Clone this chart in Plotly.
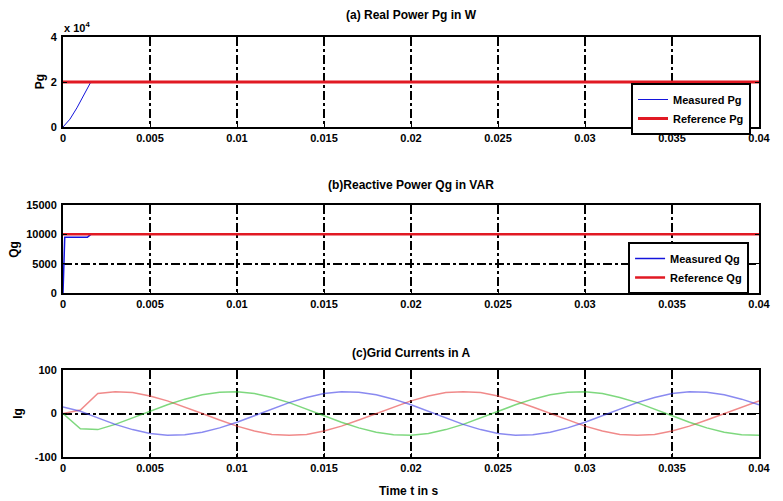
import plotly.graph_objects as go
from plotly.subplots import make_subplots

# ---------------- data ----------------
x_ticks = [0, 0.005, 0.01, 0.015, 0.02, 0.025, 0.03, 0.035, 0.04]
x_ticktext = ["0", "0.005", "0.01", "0.015", "0.02", "0.025", "0.03", "0.035", "0.04"]

# (a) real power
t_pg_meas = [0, 0.0004, 0.0008, 0.0012, 0.0016, 0.04]
pg_meas = [0, 3500, 8500, 14000, 20000, 20000]
t_pg_ref = [0, 0.04]
pg_ref = [20000, 20000]
pg_ticks = [0, 20000, 40000]
pg_ticktext = ["0", "2", "4"]

# (b) reactive power
t_qg_meas = [0, 0.0001, 0.0014, 0.0016, 0.04]
qg_meas = [0, 9500, 9500, 10000, 10000]
t_qg_ref = [0, 0.04]
qg_ref = [10000, 10000]
qg_ticks = [0, 5000, 10000, 15000]
qg_ticktext = ["0", "5000", "10000", "15000"]

# (c) grid currents, sampled every 1 ms
t_ig = [round(k * 0.001, 3) for k in range(41)]
ig_red = [0, 8, 46, 50, 48, 40, 29, 15, 0, -15, -29, -40, -48, -50, -48, -40, -29, -15,
          0, 15, 29, 40, 48, 50, 48, 40, 29, 15, 0, -15, -29, -40, -48, -50, -48, -40,
          -29, -15, 0, 15, 29]
ig_green = [0, -35, -37, -25, -10, 5, 20, 33, 43, 49, 50, 46, 37, 25, 10, -5, -20, -33,
            -43, -49, -50, -46, -37, -25, -10, 5, 20, 33, 43, 49, 50, 46, 37, 25, 10, -5,
            -20, -33, -43, -49, -50]
ig_blue = [15, 5, -10, -25, -37, -46, -50, -49, -43, -33, -20, -5, 10, 25, 37, 46, 50, 49,
           43, 33, 20, 5, -10, -25, -37, -46, -50, -49, -43, -33, -20, -5, 10, 25, 37, 46,
           50, 49, 43, 33, 20]
ig_ticks = [-100, 0, 100]
ig_ticktext = ["-100", "0", "100"]

# ---------------- figure ----------------
FONT = "Liberation Sans, Arial, sans-serif"
W, H = 783, 501
ML, MR, MT, MB = 63, 13, 37, 44
plot_h = H - MT - MB

def ydom(top_px, bot_px):
    return [(H - MB - bot_px) / plot_h, (H - MB - top_px) / plot_h]

fig = make_subplots(rows=3, cols=1)

BLUE = "rgb(20,20,220)"
RED = "rgb(225,25,35)"

fig.add_trace(go.Scatter(x=t_pg_meas, y=pg_meas, mode="lines", name="Measured Pg",
                         line=dict(color=BLUE, width=1), legend="legend"), row=1, col=1)
fig.add_trace(go.Scatter(x=t_pg_ref, y=pg_ref, mode="lines", name="Reference Pg",
                         line=dict(color=RED, width=3), legend="legend"), row=1, col=1)

fig.add_trace(go.Scatter(x=t_qg_meas, y=qg_meas, mode="lines", name="Measured Qg",
                         line=dict(color=BLUE, width=1.5), legend="legend2"), row=2, col=1)
fig.add_trace(go.Scatter(x=t_qg_ref, y=qg_ref, mode="lines", name="Reference Qg",
                         line=dict(color=RED, width=2.5), legend="legend2"), row=2, col=1)

fig.add_trace(go.Scatter(x=t_ig, y=ig_red, mode="lines", showlegend=False,
                         line=dict(color="rgba(230,60,60,0.6)", width=1.5)), row=3, col=1)
fig.add_trace(go.Scatter(x=t_ig, y=ig_green, mode="lines", showlegend=False,
                         line=dict(color="rgba(40,190,40,0.6)", width=1.5)), row=3, col=1)
fig.add_trace(go.Scatter(x=t_ig, y=ig_blue, mode="lines", showlegend=False,
                         line=dict(color="rgba(60,60,230,0.6)", width=1.5)), row=3, col=1)

TXT = dict(family=FONT, size=11, color="black", weight="bold")

common_axis = dict(showline=True, linecolor="black", linewidth=2, mirror="allticks",
                   ticks="inside", ticklen=4, tickcolor="black", tickwidth=1,
                   showgrid=True, gridcolor="black", gridwidth=1.5, griddash="dashdot",
                   zeroline=False, tickfont=TXT)

doms = [ydom(37, 127), ydom(205, 293), ydom(370, 457)]
yconf = [(pg_ticks, pg_ticktext, [0, 40000]),
         (qg_ticks, qg_ticktext, [0, 15000]),
         (ig_ticks, ig_ticktext, [-100, 100])]
for i in range(3):
    xa = "xaxis" if i == 0 else f"xaxis{i+1}"
    ya = "yaxis" if i == 0 else f"yaxis{i+1}"
    fig.layout[xa].update(range=[0, 0.04], tickvals=x_ticks, ticktext=x_ticktext,
                          domain=[0, 1], **common_axis)
    tv, tt, rg = yconf[i]
    fig.layout[ya].update(range=rg, tickvals=tv, ticktext=tt, domain=doms[i],
                          ticklabelstandoff=2, **common_axis)

def px_x(px):
    return (px - ML) / (W - ML - MR)

def px_y(py):
    return (H - MB - py) / plot_h

ann = [
    dict(text="(a) Real Power Pg in W", x=0.5, y=px_y(15), textangle=0, size=12),
    dict(text="(b)Reactive Power Qg in VAR", x=0.5, y=px_y(185), textangle=0, size=12),
    dict(text="(c)Grid Currents in A", x=0.5, y=px_y(353), textangle=0, size=12),
    dict(text="Time t in s", x=0.497, y=px_y(491), textangle=0, size=12),
    dict(text="x 10<sup>4</sup>", x=px_x(77), y=px_y(27), textangle=0, size=11),
    dict(text="Pg", x=px_x(40), y=px_y(82), textangle=-90, size=12),
    dict(text="Qg", x=px_x(13), y=px_y(249), textangle=-90, size=12),
    dict(text="Ig", x=px_x(17), y=px_y(413), textangle=-90, size=12),
]
for a in ann:
    sz = a.pop("size")
    fig.add_annotation(xref="paper", yref="paper", showarrow=False,
                       xanchor="center", yanchor="middle",
                       font=dict(family=FONT, size=sz, color="black", weight="bold"), **a)

legend_style = dict(bgcolor="white", bordercolor="black", borderwidth=2,
                    font=dict(family=FONT, size=11, color="black", weight="bold"),
                    xanchor="left", yanchor="top", tracegroupgap=0,
                    itemwidth=30)
fig.update_layout(
    width=W, height=H,
    margin=dict(l=ML, r=MR, t=MT, b=MB),
    paper_bgcolor="white", plot_bgcolor="white",
    legend=dict(x=px_x(640), y=px_y(83), **legend_style),
    legend2=dict(x=px_x(637), y=px_y(242), **legend_style),
    font=dict(family=FONT, size=11, color="black"),
)

fig.write_html("out.html")
